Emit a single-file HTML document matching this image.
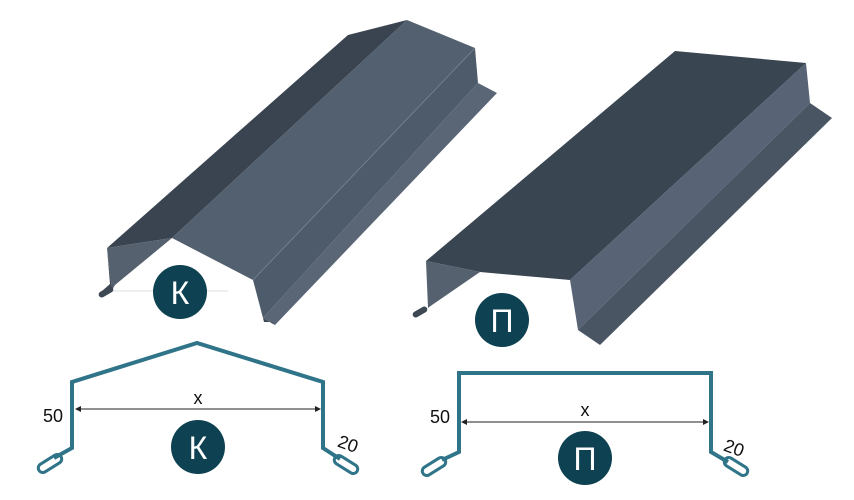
<!DOCTYPE html>
<html><head><meta charset="utf-8"><style>
html,body{margin:0;padding:0;background:#fff;}
svg{display:block;}
text{font-family:"Liberation Sans",sans-serif;}
</style></head><body>
<svg width="854" height="500" viewBox="0 0 854 500" xmlns="http://www.w3.org/2000/svg">
<!-- Profile K 3D -->
<line x1="112" y1="291" x2="228" y2="291" stroke="#d8dce0" stroke-width="1"/>
<polygon points="348,35 407,20 172,238 107,248" fill="#3a4450"/>
<polygon points="107,248 172,238 115,285 112,290" fill="#55616f"/>
<polygon points="107,248 112,290 104,294 102,291 110,284" fill="#3e4854"/>
<rect x="98" y="289" width="16" height="6" rx="3" fill="#3e4854" transform="rotate(-30 106 292)"/>
<polygon points="407,20 475,48 253,280 172,238" fill="#52606f"/>
<polygon points="475,48 478,83 263,318 253,280" fill="#4e5b6a"/>
<polygon points="478,83 497,93 275,325 263,318" fill="#5a6676"/>
<polygon points="263,318 275,325 272,322 264,322" fill="#3e4854"/>
<line x1="475" y1="48" x2="253" y2="280" stroke="#7a8696" stroke-width="0.8"/>
<!-- Profile P 3D -->
<polygon points="675,51 806,63 570,280 480,272 426,261" fill="#3a4552"/>
<polygon points="426,261 480,272 432,305 428,308" fill="#55616f"/>
<polygon points="428,308 432,305 420,314 416,318" fill="#3e4854"/>
<rect x="412" y="309" width="16" height="6" rx="3" fill="#3e4854" transform="rotate(-30 420 312)"/>
<polygon points="806,63 810,103 578,330 570,280" fill="#586475"/>
<polygon points="810,103 832,118 600,345 578,330" fill="#4a5564"/>
<!-- circles top -->
<circle cx="180" cy="292" r="27" fill="#0e4152"/>
<text x="180" y="304" font-size="32" fill="#fff" text-anchor="middle">К</text>
<circle cx="502" cy="320" r="27" fill="#0e4152"/>
<text x="502" y="332" font-size="32" fill="#fff" text-anchor="middle">П</text>
<!-- diagrams -->
<g fill="none" stroke="#2f7488" stroke-width="4" stroke-linejoin="miter">
<polyline points="54,458 72,448 72,382 197,343 323,382 323,448 340,459"/>
<polyline points="442,460 459,452 459,373 711,373 711,452 728,462"/>
</g>
<g fill="none" stroke="#2f7488" stroke-width="3">
<rect x="37" y="459" width="26" height="9" rx="4.5" transform="rotate(-32 50 463.5)"/>
<rect x="333" y="460" width="26" height="9" rx="4.5" transform="rotate(32 346 464.5)"/>
<rect x="421" y="462" width="26" height="9" rx="4.5" transform="rotate(-32 434 466.5)"/>
<rect x="723" y="462" width="26" height="9" rx="4.5" transform="rotate(32 736 466.5)"/>
</g>
<g stroke="#222" stroke-width="1">
<line x1="76" y1="409" x2="320" y2="409"/>
<line x1="462" y1="422" x2="708" y2="422"/>
</g>
<g fill="#222">
<polygon points="75,409 81,406 81,412"/><polygon points="321,409 315,406 315,412"/>
<polygon points="461,422 467,419 467,425"/><polygon points="709,422 703,419 703,425"/>
</g>
<g font-size="18" fill="#111" text-anchor="middle">
<text x="198" y="404">x</text>
<text x="585" y="416">x</text>
<text x="53" y="422">50</text>
<text x="440" y="423">50</text>
<text x="348" y="450" transform="rotate(20 348 444)">20</text>
<text x="734" y="454" transform="rotate(20 734 448)">20</text>
</g>
<circle cx="198" cy="447" r="27" fill="#0e4152"/>
<text x="198" y="459" font-size="32" fill="#fff" text-anchor="middle">К</text>
<circle cx="585" cy="458" r="27" fill="#0e4152"/>
<text x="585" y="470" font-size="32" fill="#fff" text-anchor="middle">П</text>
</svg>
</body></html>
